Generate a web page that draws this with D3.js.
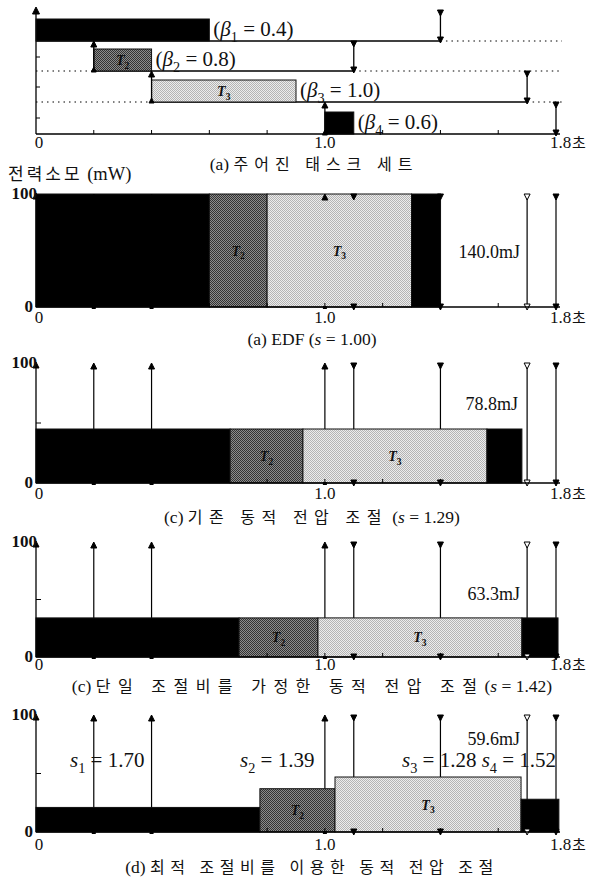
<!DOCTYPE html>
<html>
<head>
<meta charset="utf-8">
<script src="https://cdn.jsdelivr.net/npm/d3@7"></script>
<style>
  body { margin: 0; background: #fff; }
  svg { display: block; }
  text { fill: #111; }
</style>
</head>
<body>
<div id="chart"></div>
<script>
// task set
const tasks = ["T1", "T2", "T3", "T4"];
const releases = [0, 0.2, 0.4, 1.0];
const deadlines = [1.4, 1.1, 1.7, 1.8];
const execTimes = [0.6, 0.2, 0.5, 0.1];
const betas = ["0.4", "0.8", "1.0", "0.6"];

// schedules: end time of each task, power (mW)
const edfEnds = [0.6, 0.8, 1.3, 1.4];
const edfPower = [100, 100, 100, 100];
const dvsEnds = [0.672, 0.924, 1.561, 1.682];
const dvsPower = [45, 45, 45, 45];
const uniEnds = [0.703, 0.976, 1.682, 1.807];
const uniPower = [34, 34, 34, 34];
const optEnds = [0.775, 1.035, 1.679, 1.81];
const optPower = [21, 37, 47, 28];
const optSpeeds = ["1.70", "1.39", "1.28", "1.52"];

const energies = ["140.0mJ", "78.8mJ", "63.3mJ", "59.6mJ"];
const speeds = ["1.00", "1.29", "1.42"];

const xTickValues = [0, 1.0, 1.8];
const xTickLabels = ["0", "1.0", "1.8"];
const minorTicks = [0.2, 0.4, 0.6, 0.8, 1.0, 1.2, 1.4, 1.6];

const SERIF = "'Liberation Serif','DejaVu Serif',serif";
const KR = "'Noto Sans CJK KR',sans-serif";

const svg = d3.select("#chart").append("svg")
  .attr("width", 592)
  .attr("height", 881);

const x = d3.scaleLinear().domain([0, 1.8]).range([36, 556]);

// halftone fills like the scan
const defs = svg.append("defs");
function halftone(id, bg, fg) {
  const p = defs.append("pattern").attr("id", id)
    .attr("width", 2).attr("height", 2)
    .attr("patternUnits", "userSpaceOnUse");
  p.append("rect").attr("width", 2).attr("height", 2).attr("fill", bg);
  p.append("rect").attr("width", 1).attr("height", 1).attr("fill", fg);
  p.append("rect").attr("x", 1).attr("y", 1).attr("width", 1).attr("height", 1).attr("fill", fg);
}
halftone("t2", "#8c8c8c", "#333");
halftone("t3", "#ececec", "#b4b4b4");
const taskFill = ["#000", "url(#t2)", "url(#t3)", "#000"];

function tri(g, cx, cy, dir, size, hollow) {
  const s = size || 6;
  const pts = dir === "up"
    ? [[cx, cy], [cx - s / 2, cy + s], [cx + s / 2, cy + s]]
    : [[cx - s / 2, cy], [cx + s / 2, cy], [cx, cy + s]];
  g.append("path")
    .attr("d", d3.line()(pts) + "Z")
    .attr("fill", hollow ? "#fff" : "#000")
    .attr("stroke", "#000")
    .attr("stroke-width", 1);
}

function rich(g, px, py, parts, size, anchor, ls) {
  const t = g.append("text")
    .attr("x", px).attr("y", py)
    .attr("font-size", size)
    .attr("text-anchor", anchor || "start");
  parts.forEach(p => {
    const ts = t.append("tspan").text(p[0]);
    const st = p[1] || "";
    ts.attr("font-family", st.includes("k") ? KR : SERIF);
    if (st.includes("k")) ts.attr("letter-spacing", ls || 4);
    if (st.includes("i")) ts.attr("font-style", "italic");
    if (st.includes("b")) ts.attr("font-weight", "bold");
    if (st.includes("+")) ts.attr("font-size", size + 1.5);
    if (st.includes("_")) ts.attr("font-size", size * 0.68).attr("dy", size * 0.28);
    if (st.includes("^")) ts.attr("dy", -size * 0.28);
  });
  return t;
}

function xAxis(g, y0, labelY) {
  g.append("line").attr("x1", 36).attr("x2", 560).attr("y1", y0).attr("y2", y0)
    .attr("stroke", "#000").attr("stroke-width", 1.3);
  g.selectAll(".mt").data(minorTicks).enter().append("line")
    .attr("x1", d => x(d)).attr("x2", d => x(d))
    .attr("y1", y0).attr("y2", y0 - 4)
    .attr("stroke", "#000");
  g.selectAll(".xl").data(xTickValues).enter().append("text")
    .attr("x", (d, i) => i === 0 ? x(d) + 3 : (i === 2 ? x(d) - 6 : x(d)))
    .attr("y", labelY)
    .attr("text-anchor", (d, i) => i === 2 ? "start" : "middle")
    .attr("font-family", SERIF).attr("font-size", 17)
    .text((d, i) => xTickLabels[i]);
  g.append("text")
    .attr("x", x(1.8) + 16).attr("y", labelY)
    .attr("font-family", KR).attr("font-size", 15)
    .text("초");
}

// ---------- (a) task set ----------
const topG = svg.append("g");
const rowBase = [41, 71, 102, 134];
const rowTop = [10, 41, 71, 102];
const barH = 22;

topG.append("line").attr("x1", 36).attr("x2", 36).attr("y1", 134).attr("y2", 12)
  .attr("stroke", "#000").attr("stroke-width", 1.3);
tri(topG, 36, 7, "up", 7);
[57, 87, 118].forEach(v => topG.append("line")
  .attr("x1", 36).attr("x2", 40).attr("y1", v).attr("y2", v).attr("stroke", "#000"));

tasks.forEach((t, i) => {
  const yb = rowBase[i];
  const xr = x(releases[i]);
  const xd = x(deadlines[i]);
  if (i < 3) {
    if (releases[i] > 0) {
      topG.append("line").attr("x1", 36).attr("x2", xr).attr("y1", yb).attr("y2", yb)
        .attr("stroke", "#000").attr("stroke-dasharray", "1.5,4");
    }
    topG.append("line").attr("x1", xr).attr("x2", xd).attr("y1", yb).attr("y2", yb)
      .attr("stroke", "#000").attr("stroke-width", 1.3);
    topG.append("line").attr("x1", xd).attr("x2", 562).attr("y1", yb).attr("y2", yb)
      .attr("stroke", "#000").attr("stroke-dasharray", "1.5,4");
  }
  topG.append("rect")
    .attr("x", xr).attr("y", yb - barH)
    .attr("width", x(releases[i] + execTimes[i]) - xr)
    .attr("height", barH)
    .attr("fill", taskFill[i])
    .attr("stroke", "#111").attr("stroke-width", 1);
  if (i === 1 || i === 2) {
    rich(topG, (xr + x(releases[i] + execTimes[i])) / 2, yb - 6,
      [["T", "bi"], [String(i + 1), "b_"]], 14, "middle");
  }
  if (releases[i] > 0) {
    topG.append("line").attr("x1", xr).attr("x2", xr).attr("y1", yb).attr("y2", rowTop[i] + 3)
      .attr("stroke", "#000").attr("stroke-width", 1.3);
    tri(topG, xr, rowTop[i], "up", 6);
    tri(topG, xr, yb - 4, "up", 5);
  }
  topG.append("line").attr("x1", xd).attr("x2", xd).attr("y1", rowTop[i]).attr("y2", yb)
    .attr("stroke", "#000").attr("stroke-width", 1.3);
  tri(topG, xd, rowTop[i], "down", 6);
  tri(topG, xd, yb - 4, "down", 6);
  rich(topG, x(releases[i] + execTimes[i]) + 4, yb - 5,
    [["(", ""], ["β", "i"], [String(i + 1), "_"], [" = " + betas[i] + ")", "^"]], 21);
});
xAxis(topG, 134, 148);
rich(svg, 314, 170, [["(a) ", "+"], ["주어진 태스크 세트", "k"]], 16, "middle", 6);

// ---------- power panels ----------
rich(svg, 8, 180, [["전력소모", "k"], [" (mW)", "+"]], 17, "start", 3);

const panels = [
  { ends: edfEnds, power: edfPower, y0: 307, y100: 194, lab: 323, cap: 345, ls: 6,
    ex: 520, ey: 258,
    caption: [["(a) EDF (", "+"], ["s", "i+"], [" = " + speeds[0] + ")", "+"]] },
  { ends: dvsEnds, power: dvsPower, y0: 483, y100: 363, lab: 499, cap: 523, ls: 6.5,
    ex: 518, ey: 410,
    caption: [["(c) ", "+"], ["기존 동적 전압 조절", "k"], [" (", "+"], ["s", "i+"], [" = " + speeds[1] + ")", "+"]] },
  { ends: uniEnds, power: uniPower, y0: 657, y100: 542, lab: 670, cap: 692, ls: 7.5,
    ex: 520, ey: 600,
    caption: [["(c) ", "+"], ["단일 조절비를 가정한 동적 전압 조절", "k"], ["(", "+"], ["s", "i+"], [" = " + speeds[2] + ")", "+"]] },
  { ends: optEnds, power: optPower, y0: 832, y100: 715, lab: 850, cap: 873, ls: 5.5,
    ex: 520, ey: 745,
    caption: [["(d) ", "+"], ["최적 조절비를 이용한 동적 전압 조절", "k"]] }
];

panels.forEach((p, pi) => {
  const g = svg.append("g");
  const y = d3.scaleLinear().domain([0, 100]).range([p.y0, p.y100]);
  const starts = [0].concat(p.ends.slice(0, 3));

  // arrow shafts sit behind the bars
  releases.forEach(r => {
    if (r === 0) return;
    g.append("line").attr("x1", x(r)).attr("x2", x(r)).attr("y1", y(0)).attr("y2", y(100) + 3)
      .attr("stroke", "#000").attr("stroke-width", 1.2);
  });
  deadlines.forEach(d => {
    g.append("line").attr("x1", x(d)).attr("x2", x(d)).attr("y1", y(0)).attr("y2", y(100))
      .attr("stroke", "#000").attr("stroke-width", 1.2);
  });

  g.selectAll(".bar").data(tasks).enter().append("rect")
    .attr("x", (d, i) => x(starts[i]))
    .attr("y", (d, i) => y(p.power[i]))
    .attr("width", (d, i) => x(p.ends[i]) - x(starts[i]))
    .attr("height", (d, i) => y(0) - y(p.power[i]))
    .attr("fill", (d, i) => taskFill[i])
    .attr("stroke", "#111").attr("stroke-width", 1);

  [1, 2].forEach(i => {
    const cy = (y(0) + y(p.power[i])) / 2 + 5;
    rich(g, (x(starts[i]) + x(p.ends[i])) / 2, cy,
      [["T", "bi"], [String(i + 1), "b_"]], 14, "middle");
  });

  // y axis
  g.append("line").attr("x1", 36).attr("x2", 36).attr("y1", y(0)).attr("y2", y(100) + 3)
    .attr("stroke", "#000").attr("stroke-width", 1.3);
  tri(g, 36, y(100) - 1, "up", 6);
  g.append("line").attr("x1", 36).attr("x2", 41).attr("y1", y(50)).attr("y2", y(50))
    .attr("stroke", "#000");
  g.append("text").attr("x", 37).attr("y", y(100) + 5).attr("text-anchor", "end")
    .attr("font-family", SERIF).attr("font-size", 17).attr("font-weight", "bold").text("100");
  g.append("text").attr("x", 33).attr("y", y(0) + 5).attr("text-anchor", "end")
    .attr("font-family", SERIF).attr("font-size", 17).attr("font-weight", "bold").text("0");

  // arrow heads
  releases.forEach(r => {
    if (r === 0) return;
    tri(g, x(r), y(100), "up", 6);
    g.append("rect").attr("x", x(r) - 2).attr("y", y(0) - 1).attr("width", 4).attr("height", 3)
      .attr("fill", "#000");
  });
  deadlines.forEach((d, i) => {
    tri(g, x(d), y(100), "down", 6, i === 2);
    tri(g, x(d), y(0) - 3, "down", 6, i === 2);
  });

  xAxis(g, y(0), p.lab);

  g.append("text").attr("x", p.ex).attr("y", p.ey).attr("text-anchor", "end")
    .attr("font-family", SERIF).attr("font-size", 18).text(energies[pi]);

  rich(svg, 312, p.cap, p.caption, 16, "middle", p.ls);

  if (pi === 3) {
    rich(g, 70, 767, [["s", "i"], ["1", "_"], [" = " + optSpeeds[0], "^"]], 21);
    rich(g, 240, 767, [["s", "i"], ["2", "_"], [" = " + optSpeeds[1], "^"]], 21);
    rich(g, 402, 767, [["s", "i"], ["3", "_"], [" = " + optSpeeds[2] + " ", "^"],
      ["s", "i"], ["4", "_"], [" = " + optSpeeds[3], "^"]], 21);
  }
});
</script>
</body>
</html>
